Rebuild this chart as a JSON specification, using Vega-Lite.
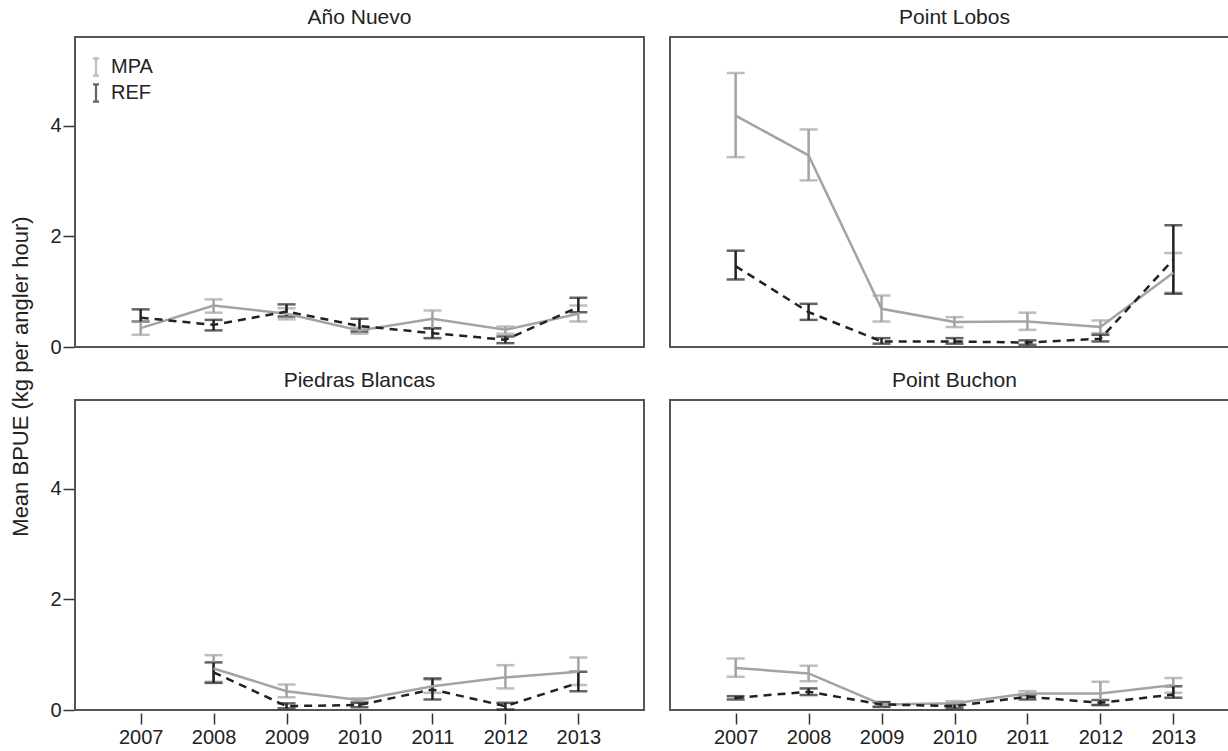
{
  "$schema": "https://vega.github.io/schema/vega-lite/v6.json",
  "padding": {"left": 9, "top": 6, "right": 0, "bottom": 0},
  "background": "white",
  "title": {"text": "Mean BPUE (kg per angler hour)", "orient": "left", "anchor": "middle", "fontSize": 22, "font": "Liberation Sans", "fontWeight": "normal", "color": "#222222", "offset": 17},
  "data": {"values": [
    {"site": "Año Nuevo", "year": 2007, "type": "MPA", "mean": 0.34, "lo": 0.22, "hi": 0.46},
    {"site": "Año Nuevo", "year": 2008, "type": "MPA", "mean": 0.75, "lo": 0.62, "hi": 0.86},
    {"site": "Año Nuevo", "year": 2009, "type": "MPA", "mean": 0.60, "lo": 0.50, "hi": 0.70},
    {"site": "Año Nuevo", "year": 2010, "type": "MPA", "mean": 0.30, "lo": 0.24, "hi": 0.35},
    {"site": "Año Nuevo", "year": 2011, "type": "MPA", "mean": 0.51, "lo": 0.33, "hi": 0.66},
    {"site": "Año Nuevo", "year": 2012, "type": "MPA", "mean": 0.31, "lo": 0.24, "hi": 0.37},
    {"site": "Año Nuevo", "year": 2013, "type": "MPA", "mean": 0.60, "lo": 0.46, "hi": 0.75},
    {"site": "Point Lobos", "year": 2007, "type": "MPA", "mean": 4.18, "lo": 3.43, "hi": 4.95},
    {"site": "Point Lobos", "year": 2008, "type": "MPA", "mean": 3.46, "lo": 3.01, "hi": 3.93},
    {"site": "Point Lobos", "year": 2009, "type": "MPA", "mean": 0.69, "lo": 0.46, "hi": 0.93},
    {"site": "Point Lobos", "year": 2010, "type": "MPA", "mean": 0.45, "lo": 0.36, "hi": 0.54},
    {"site": "Point Lobos", "year": 2011, "type": "MPA", "mean": 0.46, "lo": 0.31, "hi": 0.62},
    {"site": "Point Lobos", "year": 2012, "type": "MPA", "mean": 0.36, "lo": 0.25, "hi": 0.48},
    {"site": "Point Lobos", "year": 2013, "type": "MPA", "mean": 1.34, "lo": 0.98, "hi": 1.70},
    {"site": "Piedras Blancas", "year": 2008, "type": "MPA", "mean": 0.75, "lo": 0.51, "hi": 0.99},
    {"site": "Piedras Blancas", "year": 2009, "type": "MPA", "mean": 0.34, "lo": 0.23, "hi": 0.46},
    {"site": "Piedras Blancas", "year": 2010, "type": "MPA", "mean": 0.18, "lo": 0.15, "hi": 0.21},
    {"site": "Piedras Blancas", "year": 2011, "type": "MPA", "mean": 0.43, "lo": 0.31, "hi": 0.55},
    {"site": "Piedras Blancas", "year": 2012, "type": "MPA", "mean": 0.59, "lo": 0.39, "hi": 0.81},
    {"site": "Piedras Blancas", "year": 2013, "type": "MPA", "mean": 0.69, "lo": 0.45, "hi": 0.95},
    {"site": "Point Buchon", "year": 2007, "type": "MPA", "mean": 0.76, "lo": 0.60, "hi": 0.93},
    {"site": "Point Buchon", "year": 2008, "type": "MPA", "mean": 0.66, "lo": 0.52, "hi": 0.80},
    {"site": "Point Buchon", "year": 2009, "type": "MPA", "mean": 0.10, "lo": 0.05, "hi": 0.15},
    {"site": "Point Buchon", "year": 2010, "type": "MPA", "mean": 0.12, "lo": 0.07, "hi": 0.16},
    {"site": "Point Buchon", "year": 2011, "type": "MPA", "mean": 0.30, "lo": 0.25, "hi": 0.34},
    {"site": "Point Buchon", "year": 2012, "type": "MPA", "mean": 0.30, "lo": 0.09, "hi": 0.51},
    {"site": "Point Buchon", "year": 2013, "type": "MPA", "mean": 0.45, "lo": 0.31, "hi": 0.58},
    {"site": "Año Nuevo", "year": 2007, "type": "REF", "mean": 0.53, "lo": 0.46, "hi": 0.68},
    {"site": "Año Nuevo", "year": 2008, "type": "REF", "mean": 0.40, "lo": 0.30, "hi": 0.49},
    {"site": "Año Nuevo", "year": 2009, "type": "REF", "mean": 0.64, "lo": 0.55, "hi": 0.77},
    {"site": "Año Nuevo", "year": 2010, "type": "REF", "mean": 0.38, "lo": 0.28, "hi": 0.51},
    {"site": "Año Nuevo", "year": 2011, "type": "REF", "mean": 0.25, "lo": 0.16, "hi": 0.34},
    {"site": "Año Nuevo", "year": 2012, "type": "REF", "mean": 0.13, "lo": 0.07, "hi": 0.19},
    {"site": "Año Nuevo", "year": 2013, "type": "REF", "mean": 0.72, "lo": 0.63, "hi": 0.89},
    {"site": "Point Lobos", "year": 2007, "type": "REF", "mean": 1.46, "lo": 1.22, "hi": 1.74},
    {"site": "Point Lobos", "year": 2008, "type": "REF", "mean": 0.63, "lo": 0.49, "hi": 0.78},
    {"site": "Point Lobos", "year": 2009, "type": "REF", "mean": 0.10, "lo": 0.06, "hi": 0.16},
    {"site": "Point Lobos", "year": 2010, "type": "REF", "mean": 0.10, "lo": 0.06, "hi": 0.16},
    {"site": "Point Lobos", "year": 2011, "type": "REF", "mean": 0.08, "lo": 0.04, "hi": 0.12},
    {"site": "Point Lobos", "year": 2012, "type": "REF", "mean": 0.15, "lo": 0.10, "hi": 0.22},
    {"site": "Point Lobos", "year": 2013, "type": "REF", "mean": 1.58, "lo": 0.96, "hi": 2.20},
    {"site": "Piedras Blancas", "year": 2008, "type": "REF", "mean": 0.68, "lo": 0.49, "hi": 0.86},
    {"site": "Piedras Blancas", "year": 2009, "type": "REF", "mean": 0.07, "lo": 0.03, "hi": 0.12},
    {"site": "Piedras Blancas", "year": 2010, "type": "REF", "mean": 0.09, "lo": 0.05, "hi": 0.13},
    {"site": "Piedras Blancas", "year": 2011, "type": "REF", "mean": 0.37, "lo": 0.19, "hi": 0.57},
    {"site": "Piedras Blancas", "year": 2012, "type": "REF", "mean": 0.07, "lo": 0.01, "hi": 0.13},
    {"site": "Piedras Blancas", "year": 2013, "type": "REF", "mean": 0.49, "lo": 0.34, "hi": 0.69},
    {"site": "Point Buchon", "year": 2007, "type": "REF", "mean": 0.22, "lo": 0.19, "hi": 0.25},
    {"site": "Point Buchon", "year": 2008, "type": "REF", "mean": 0.33, "lo": 0.27, "hi": 0.39},
    {"site": "Point Buchon", "year": 2009, "type": "REF", "mean": 0.10, "lo": 0.06, "hi": 0.14},
    {"site": "Point Buchon", "year": 2010, "type": "REF", "mean": 0.07, "lo": 0.03, "hi": 0.11},
    {"site": "Point Buchon", "year": 2011, "type": "REF", "mean": 0.24, "lo": 0.19, "hi": 0.28},
    {"site": "Point Buchon", "year": 2012, "type": "REF", "mean": 0.13, "lo": 0.09, "hi": 0.18},
    {"site": "Point Buchon", "year": 2013, "type": "REF", "mean": 0.28, "lo": 0.22, "hi": 0.43}
  ]},
  "facet": {
    "field": "site", "type": "nominal",
    "sort": ["Año Nuevo", "Point Lobos", "Piedras Blancas", "Point Buchon"],
    "header": {"title": null, "labelFontSize": 21, "labelFont": "Liberation Sans", "labelFontWeight": "normal", "labelColor": "#222222", "labelPadding": 9}
  },
  "columns": 2,
  "spacing": {"column": 24, "row": 19},
  "spec": {
    "width": 569,
    "height": 310,
    "encoding": {
      "x": {"field": "year", "type": "quantitative",
        "scale": {"domain": [2006.1, 2013.9], "nice": false, "zero": false},
        "axis": {"title": null, "values": [2007, 2008, 2009, 2010, 2011, 2012, 2013], "format": "d", "grid": false, "domain": false, "tickSize": 11, "tickWidth": 1.5, "tickColor": "#333333", "labelFontSize": 20, "labelFont": "Liberation Sans", "labelColor": "#222222", "labelPadding": 3}},
      "color": {"field": "type", "type": "nominal",
        "scale": {"domain": ["MPA", "REF"], "range": ["#a3a3a3", "#222222"]},
        "legend": {"title": null, "orient": "none", "legendX": 11, "legendY": 20, "labelFontSize": 20, "labelFont": "Liberation Sans", "labelColor": "#222222", "symbolType": "M0,-1V1M-0.35,-1H0.35M-0.35,1H0.35", "symbolSize": 300, "symbolStrokeWidth": 2.2, "symbolFillColor": "transparent", "rowPadding": -2, "labelOffset": 5}}
    },
    "layer": [
      {
        "mark": {"type": "errorbar", "ticks": {"size": 18, "thickness": 2.5}, "rule": {"strokeWidth": 2.5}, "thickness": 2.5},
        "encoding": {
          "y": {"field": "lo", "type": "quantitative",
            "scale": {"domain": [0, 5.6], "nice": false},
            "axis": {"title": null, "values": [0, 2, 4], "format": "d", "grid": false, "domain": false, "tickSize": 11, "tickWidth": 1.5, "tickColor": "#333333", "labelFontSize": 20, "labelFont": "Liberation Sans", "labelColor": "#222222", "labelPadding": 2}},
          "y2": {"field": "hi"}
        }
      },
      {
        "transform": [{"filter": "datum.type === 'MPA'"}],
        "mark": {"type": "line", "strokeWidth": 2.5},
        "encoding": {
          "y": {"field": "mean", "type": "quantitative"}
        }
      },
      {
        "transform": [{"filter": "datum.type === 'REF'"}],
        "mark": {"type": "line", "strokeWidth": 2.5, "strokeDash": [8, 6]},
        "encoding": {
          "y": {"field": "mean", "type": "quantitative"}
        }
      }
    ]
  },
  "config": {
    "view": {"stroke": "#555555", "strokeWidth": 2},
    "font": "Liberation Sans"
  }
}
